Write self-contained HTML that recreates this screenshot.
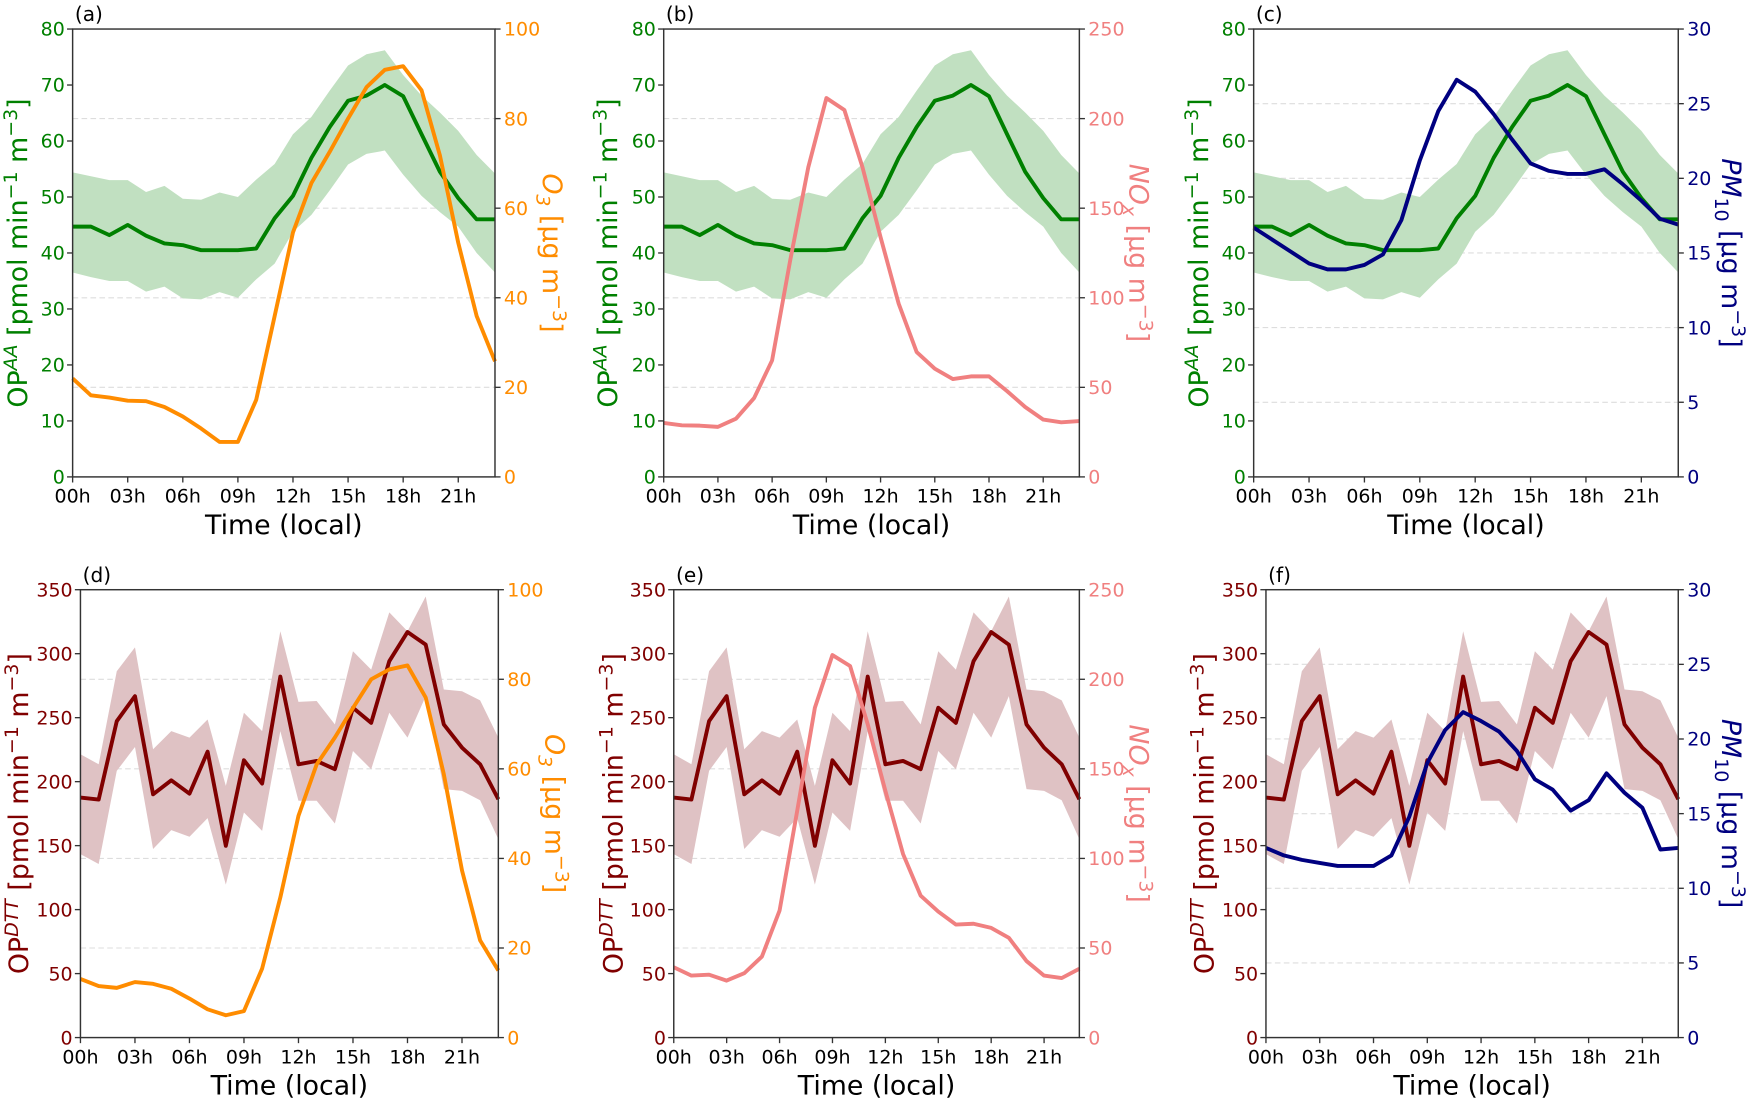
<!DOCTYPE html>
<html><head><meta charset="utf-8">
<style>
html,body{margin:0;padding:0;background:#fff;}
svg{display:block;font-family:"DejaVu Sans","Liberation Sans",sans-serif;}
</style></head>
<body>
<svg id="fig" width="1752" height="1099" viewBox="0 0 1568 984" preserveAspectRatio="none" xmlns="http://www.w3.org/2000/svg"></svg>
<script>
const hours = [0,1,2,3,4,5,6,7,8,9,10,11,12,13,14,15,16,17,18,19,20,21,22,23];
const xTickLabels = ["00h","03h","06h","09h","12h","15h","18h","21h"];
const xTickValues = [0,3,6,9,12,15,18,21];
const opAAMean = [44.7,44.7,43.2,45,43.1,41.7,41.4,40.5,40.5,40.5,40.8,46.2,50.2,57,62.5,67.2,68.1,70,68,61.2,54.5,49.8,46,46];
const opAAUpper = [54.4,53.7,53,53,50.9,52,49.7,49.5,50.8,50,53.1,55.9,61.2,64.3,69,73.5,75.5,76.2,71.8,68.1,65.1,61.8,57.5,54.2];
const opAALower = [36.5,35.7,35,35,33.1,34,31.9,31.7,33,32,35.3,38.1,43.8,46.8,51.2,55.8,57.7,58.3,54,50.2,47.3,44.7,40,36.5];
const opDTTMean = [187.6,186,247.3,266.8,190.1,201,190.6,223.4,149.9,216.7,198.5,282.1,213.6,216.2,209.7,257.7,246,294.1,316.9,307.1,244.7,226.6,213.6,186.3];
const opDTTUpper = [221.4,213.6,286.3,305,225.3,239.5,234.4,248.6,196.7,253.8,239.5,317.5,262.4,263,244.7,301.9,287.6,332.3,317.5,344.7,272,270.7,263.5,234.4];
const opDTTLower = [143.4,135.6,208.4,227.1,147.3,162.1,156.9,171.5,119.5,175.9,161.6,239.5,185,185,167.3,224,209.7,253.8,234.4,266.8,194.1,192.8,185.5,155.1];
const o3Top = [22,18.2,17.7,17,16.9,15.6,13.5,10.8,7.8,7.8,17.2,35.9,54.6,65.6,72.6,80,87,90.9,91.7,86.3,71.8,52.3,35.9,25.8];
const noxTop = [30.1,28.8,28.6,27.9,32.5,44,65,120.8,172.9,211.5,204.8,172.9,133.8,96.7,69.7,60.4,54.6,56.1,56.1,47.9,39,32,30.5,31.2];
const pm10Top = [16.7,15.9,15.1,14.3,13.9,13.9,14.2,14.9,17.2,21.2,24.5,26.6,25.8,24.3,22.6,21,20.5,20.3,20.3,20.6,19.6,18.5,17.3,16.9];
const o3Bottom = [13.1,11.5,11.1,12.4,12,10.9,8.7,6.3,5,5.9,15.4,31.3,49.5,61,67,73.6,80,82.2,83.1,75.9,58.8,37.3,21.7,15];
const noxBottom = [39.3,34.6,35.1,31.8,35.9,45.2,70.9,126.6,184.1,213.5,207.4,174.9,137.7,102.5,79.2,70.3,63.1,63.5,61.2,55.7,42.7,34.6,33.2,38.4];
const pm10Bottom = [12.7,12.2,11.9,11.7,11.5,11.5,11.5,12.2,14.8,18.4,20.6,21.8,21.2,20.5,19.2,17.3,16.6,15.2,15.9,17.7,16.4,15.4,12.6,12.7];
const aaTicks = [0,10,20,30,40,50,60,70,80];
const dttTicks = [0,50,100,150,200,250,300,350];
const o3Ticks = [0,20,40,60,80,100];
const noxTicks = [0,50,100,150,200,250];
const pmTicks = [0,5,10,15,20,25,30];

const NS="http://www.w3.org/2000/svg";
const svg=document.getElementById('fig');
function mk(tag,attrs,parent){const e=document.createElementNS(NS,tag);for(const k in attrs)e.setAttribute(k,attrs[k]);(parent||svg).appendChild(e);return e;}

const panels=[
 {id:'a',L:65,R:443,T:26,B:427,op:'AA',right:'O3',rdata:o3Top,rticks:o3Ticks,rmax:100,rcol:'#ff8c00',llx:15,rlx:495},
 {id:'b',L:594,R:966,T:26,B:427,op:'AA',right:'NOx',rdata:noxTop,rticks:noxTicks,rmax:250,rcol:'#f08080',llx:543,rlx:1020},
 {id:'c',L:1122,R:1502,T:26,B:427,op:'AA',right:'PM10',rdata:pm10Top,rticks:pmTicks,rmax:30,rcol:'#000080',llx:1072,rlx:1550},
 {id:'d',L:72,R:446,T:528,B:929,op:'DTT',right:'O3',rdata:o3Bottom,rticks:o3Ticks,rmax:100,rcol:'#ff8c00',llx:16,rlx:497},
 {id:'e',L:603,R:966,T:528,B:929,op:'DTT',right:'NOx',rdata:noxBottom,rticks:noxTicks,rmax:250,rcol:'#f08080',llx:548,rlx:1020},
 {id:'f',L:1133,R:1502,T:528,B:929,op:'DTT',right:'PM10',rdata:pm10Bottom,rticks:pmTicks,rmax:30,rcol:'#000080',llx:1077,rlx:1550}
];

panels.forEach(p=>{
 const g=mk('g',{});
 
 
 const isAA=p.op==='AA';
 const lmax=isAA?80:350, lticks=isAA?aaTicks:dttTicks;
 const mean=isAA?opAAMean:opDTTMean, up=isAA?opAAUpper:opDTTUpper, lo=isAA?opAALower:opDTTLower;
 const lcol=isAA?'#008000':'#800000', band=isAA?'#c1e0c1':'#dfc2c4';
 const x=h=>p.L+(p.R-p.L)*h/23;
 const yl=v=>p.B-(p.B-p.T)*v/lmax;
 const yr=v=>p.B-(p.B-p.T)*v/p.rmax;
 p.rticks.forEach(t=>{ if(t>0&&t<p.rmax){const l=mk('line',{x1:p.L,x2:p.R,y1:yr(t),y2:yr(t),stroke:'#dddddd','stroke-width':1,'stroke-dasharray':'5,3'},g);
  
  }});
 let d='';
 hours.forEach((h,i)=>{d+=(i?'L':'M')+x(h).toFixed(1)+','+yl(up[i]).toFixed(1);});
 for(let i=hours.length-1;i>=0;i--)d+='L'+x(hours[i]).toFixed(1)+','+yl(lo[i]).toFixed(1);
 const bd=mk('path',{d:d+'Z',fill:band,stroke:'none'},g);
 
 
 const ml=mk('polyline',{points:hours.map((h,i)=>x(h).toFixed(1)+','+yl(mean[i]).toFixed(1)).join(' '),fill:'none',stroke:lcol,'stroke-width':3.5,'stroke-linejoin':'round'},g);
 
 
 const rl=mk('polyline',{points:hours.map((h,i)=>x(h).toFixed(1)+','+yr(p.rdata[i]).toFixed(1)).join(' '),fill:'none',stroke:p.rcol,'stroke-width':3.5,'stroke-linejoin':'round'},g);
 
 
 const fr=mk('rect',{x:p.L,y:p.T,width:p.R-p.L,height:p.B-p.T,fill:'none',stroke:'#333','stroke-width':1.3},g);
 
 
 lticks.forEach(t=>{
  mk('line',{x1:p.L-5,x2:p.L,y1:yl(t),y2:yl(t),stroke:'#333','stroke-width':1.2},g);
  const tx=mk('text',{x:p.L-7,y:yl(t)+6,'text-anchor':'end','font-size':17,fill:lcol},g);
  tx.textContent=t;
  
  
 });
 p.rticks.forEach(t=>{
  mk('line',{x1:p.R,x2:p.R+5,y1:yr(t),y2:yr(t),stroke:'#333','stroke-width':1.2},g);
  const tx=mk('text',{x:p.R+8,y:yr(t)+6,'text-anchor':'start','font-size':17,fill:p.rcol},g);
  tx.textContent=t;
  
  
 });
 xTickValues.forEach((t,i)=>{
  mk('line',{x1:x(t),x2:x(t),y1:p.B,y2:p.B+5,stroke:'#333','stroke-width':1.2},g);
  const tx=mk('text',{x:x(t),y:p.B+23,'text-anchor':'middle','font-size':17,fill:'#000'},g);
  tx.textContent=xTickLabels[i];
  
  
 });
 const xt=mk('text',{x:(p.L+p.R)/2,y:p.B+51,'text-anchor':'middle','font-size':24,fill:'#000'},g);
 xt.textContent='Time (local)';
 
 
 const pl=mk('text',{x:p.L+2,y:p.T-7,'font-size':18,fill:'#000'},g);
 pl.textContent='('+p.id+')';
 
 
 const cy=(p.T+p.B)/2;
 const lt=mk('text',{x:0,y:0,'text-anchor':'middle','font-size':24,fill:lcol,transform:`translate(${p.llx+9},${cy}) rotate(-90)`},g);
 
 
 lt.innerHTML=`OP<tspan font-size="17" font-style="italic" dy="-9">${p.op}</tspan><tspan dy="9"> [pmol min</tspan><tspan font-size="17" dy="-9">−1</tspan><tspan dy="9"> m</tspan><tspan font-size="17" dy="-9">−3</tspan><tspan dy="9">]</tspan>`;
 const rt=mk('text',{x:0,y:0,'text-anchor':'middle','font-size':24,fill:p.rcol,transform:`translate(${p.rlx-9},${cy}) rotate(90)`},g);
 
 
 let nm;
 if(p.right==='O3') nm='<tspan font-style="italic">O</tspan><tspan font-size="17" font-style="italic" dy="6">3</tspan><tspan dy="-6">';
 else if(p.right==='NOx') nm='<tspan font-style="italic">NO</tspan><tspan font-size="17" font-style="italic" dy="6">x</tspan><tspan dy="-6">';
 else nm='<tspan font-style="italic">PM</tspan><tspan font-size="17" dy="6">10</tspan><tspan dy="-6">';
 rt.innerHTML=nm+` [μg m</tspan><tspan font-size="17" dy="-9">−3</tspan><tspan dy="9">]</tspan>`;
});
</script>
</body></html>
